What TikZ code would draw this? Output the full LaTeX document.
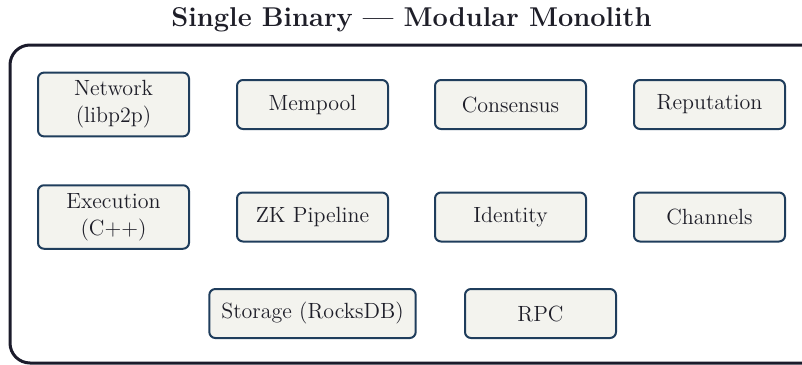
\documentclass[tikz,border=0pt]{standalone}
\usepackage{amsmath}
\usepackage{xcolor}
\usepackage{tikz}

\definecolor{boxfill}{HTML}{F3F3EE}
\definecolor{boxline}{HTML}{1F3D5C}
\definecolor{frameline}{HTML}{1B1B2B}
\definecolor{textdark}{HTML}{1E1E28}

\begin{document}
\begin{tikzpicture}[
			x=0.5pt, y=-0.5pt,
			module/.style={draw=boxline, fill=boxfill, line width=1pt,
				rounded corners=3pt, text=textdark, align=center,
				font=\fontsize{11}{13.5}\selectfont,
				minimum width=75.5pt, minimum height=24.5pt,
				inner xsep=6pt, inner ysep=4pt},
			frame/.style={draw=frameline, line width=1.5pt, rounded corners=10pt}]
			\useasboundingbox (0,0) rectangle (802,364);
			\node[font=\fontsize{13.6}{16}\selectfont\bfseries, text=textdark] (title) at (411.5,20) {Single Binary --- Modular Monolith};
			\draw[frame] (10,45) rectangle (830,363);
			% first row
			\node[module] (network) at (113.5,104.5) {Network\\(libp2p)};
			\node[module] (mempool) at (312.5,104.5) {Mempool};
			\node[module] (consensus) at (510.5,104.5) {Consensus};
			\node[module] (reputation) at (709.5,104.5) {Reputation};
			% second row
			\node[module] (execution) at (113.5,217) {Execution\\(C++)};
			\node[module] (zk) at (312.5,217) {ZK Pipeline};
			\node[module] (identity) at (510.5,217) {Identity};
			\node[module] (channels) at (709.5,217) {Channels};
			% third row
			\node[module] (storage) at (312.5,313.5) {Storage (RocksDB)};
			\node[module] (rpc) at (540.5,313.5) {RPC};
		\end{tikzpicture}
\end{document}
